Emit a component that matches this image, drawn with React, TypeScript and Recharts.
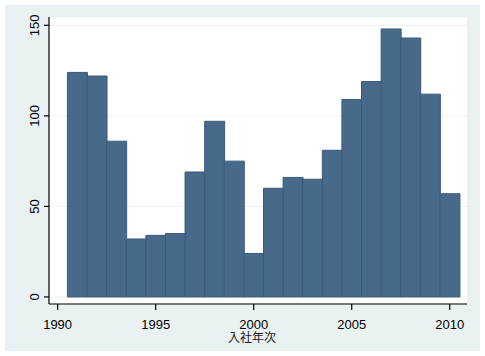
import { BarChart, Bar, XAxis, YAxis, CartesianGrid } from "recharts";

const years = [1991, 1992, 1993, 1994, 1995, 1996, 1997, 1998, 1999, 2000, 2001, 2002, 2003, 2004, 2005, 2006, 2007, 2008, 2009, 2010];
const counts = [124, 122, 86, 32, 34, 35, 69, 97, 75, 24, 60, 66, 65, 81, 109, 119, 148, 143, 112, 57];
const xTicks = [1990, 1995, 2000, 2005, 2010];
const yTicks = [0, 50, 100, 150];
const xTitle = "入社年次";

const data = years.map((year, i) => ({ year, count: counts[i] }));

const font = "'Liberation Sans', Arial, sans-serif";

function YTick({ x, y, payload }: any) {
  return (
    <text x={x - 4.5} y={y} transform={`rotate(-90, ${x - 4.5}, ${y})`} textAnchor="middle"
          fontFamily={font} fontSize={13} fill="#000">{payload.value}</text>
  );
}

function XTick({ x, y, payload }: any) {
  return (
    <text x={x} y={y + 16.5} textAnchor="middle" fontFamily={font} fontSize={13} fill="#000">{payload.value}</text>
  );
}

function XTitle({ viewBox }: any) {
  return (
    <text x={viewBox.x + viewBox.width / 2 - 6} y={viewBox.y + 38} textAnchor="middle"
          fontFamily="'Noto Sans CJK JP', sans-serif" fontSize={12} fill="#222">{xTitle}</text>
  );
}

export default function App() {
  return (
    <div style={{ position: "absolute", left: 0, top: 0, width: 485, height: 356, background: "#fff" }}>
      <div style={{ position: "absolute", left: 5, top: 5, width: 475, height: 346, background: "#E9F1F2" }} />
      <div style={{ position: "absolute", left: 0, top: 0 }}>
        <BarChart width={485} height={356} data={data} barCategoryGap={0} barGap={0}
                  margin={{ top: 17, right: 18, bottom: 12, left: 19 }}>
          <CartesianGrid horizontal vertical={false} fill="#fff" stroke="#E9F1F2" strokeWidth={1} />
          <XAxis dataKey="year" type="number" domain={[1989.56, 2010.88]} ticks={xTicks} allowDataOverflow
                 height={40} tickSize={6} axisLine={{ stroke: "#000", strokeWidth: 1.2 }}
                 tickLine={{ stroke: "#000", strokeWidth: 1.2 }} tick={<XTick />} label={<XTitle />} />
          <YAxis type="number" domain={[-3.9, 154.6]} ticks={yTicks} allowDataOverflow width={30}
                 tickSize={5} tickMargin={0} axisLine={{ stroke: "#000", strokeWidth: 1.2 }}
                 tickLine={{ stroke: "#000", strokeWidth: 1.2 }} tick={<YTick />} />
          <Bar dataKey="count" fill="#486A8A" stroke="#3B5B79" strokeWidth={1} isAnimationActive={false} />
        </BarChart>
      </div>
    </div>
  );
}
